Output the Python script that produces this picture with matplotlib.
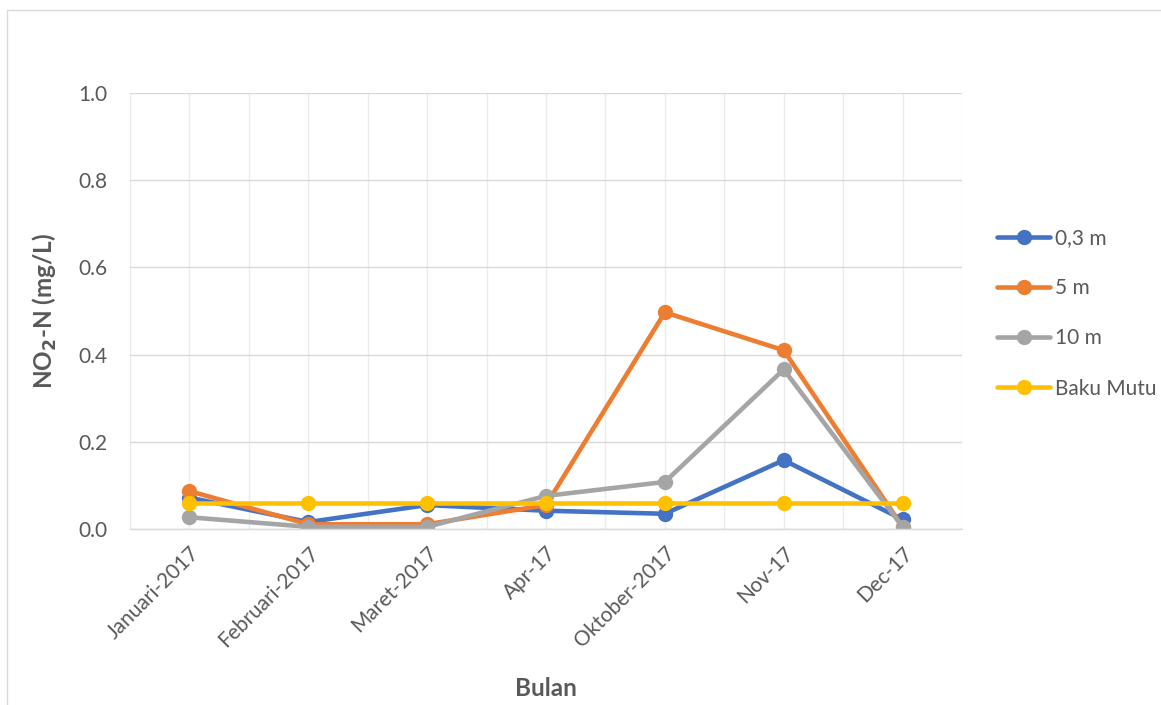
import matplotlib
matplotlib.use("Agg")
import matplotlib.pyplot as plt
import matplotlib.ticker as ticker
from matplotlib.patches import Rectangle

plt.rcParams["font.family"] = ["Lato", "DejaVu Sans"]

bulan = [
    "Januari-2017",
    "Februari-2017",
    "Maret-2017",
    "Apr-17",
    "Oktober-2017",
    "Nov-17",
    "Dec-17",
]
kedalaman_03 = [0.072, 0.016, 0.055, 0.042, 0.035, 0.158, 0.022]
kedalaman_5 = [0.087, 0.011, 0.011, 0.055, 0.497, 0.410, 0.005]
kedalaman_10 = [0.027, 0.005, 0.005, 0.076, 0.108, 0.366, 0.005]
baku_mutu = [0.06, 0.06, 0.06, 0.06, 0.06, 0.06, 0.06]

series = [
    ("0,3 m", kedalaman_03, "#4472C4"),
    ("5 m", kedalaman_5, "#ED7D31"),
    ("10 m", kedalaman_10, "#A5A5A5"),
    ("Baku Mutu", baku_mutu, "#FFC000"),
]

text_color = "#595959"
grid_color = "#D9D9D9"

fig = plt.figure(figsize=(11.61, 7.05), dpi=100)
ax = fig.add_axes([0.112, 0.2496, 0.7166, 0.6184])

# chart area border
fig.add_artist(
    Rectangle((0.006, -0.01), 1.0, 0.996, transform=fig.transFigure,
              fill=False, edgecolor=grid_color, linewidth=1.0)
)

x = range(len(bulan))
for label, values, color in series:
    ax.plot(x, values, color=color, linewidth=3.3, marker="o",
            markersize=10, label=label, solid_capstyle="round")

ax.set_xlim(-0.5, len(bulan) - 0.5)
ax.set_ylim(0, 1.0)
ax.yaxis.set_major_locator(ticker.MultipleLocator(0.2))
ax.yaxis.set_major_formatter(ticker.FormatStrFormatter("%.1f"))
ax.set_xticks(list(x))
ax.set_xticks([i - 0.5 for i in range(len(bulan) + 1)], minor=True)
ax.set_xticklabels(bulan, rotation=45, ha="right", rotation_mode="anchor")

ax.grid(True, axis="y", color=grid_color, linewidth=1.0)
ax.grid(True, axis="x", which="both", color="#EBEBEB", linewidth=1.0)
ax.set_axisbelow(True)

for side in ["top", "right", "left"]:
    ax.spines[side].set_visible(False)
ax.spines["bottom"].set_color(grid_color)
ax.spines["bottom"].set_linewidth(1.0)

ax.tick_params(axis="both", which="both", length=0, labelsize=15,
               labelcolor=text_color)
ax.tick_params(axis="x", pad=10)
ax.tick_params(axis="y", pad=16)

ax.set_ylabel(r"NO$_\mathbf{2}$-N (mg/L)", fontsize=17.5, fontweight="bold",
              color=text_color)
ax.yaxis.set_label_coords(-0.085, 0.5)
ax.set_xlabel("Bulan", fontsize=17.5, fontweight="bold", color=text_color,
              va="top")
ax.xaxis.set_label_coords(0.5, -0.339)

ax.legend(loc="center left", bbox_to_anchor=(1.032, 0.495), frameon=False,
          borderaxespad=0, fontsize=15, labelcolor=text_color,
          labelspacing=1.45, handlelength=2.55, handletextpad=0.25)

fig.savefig("out.png", dpi=100)
